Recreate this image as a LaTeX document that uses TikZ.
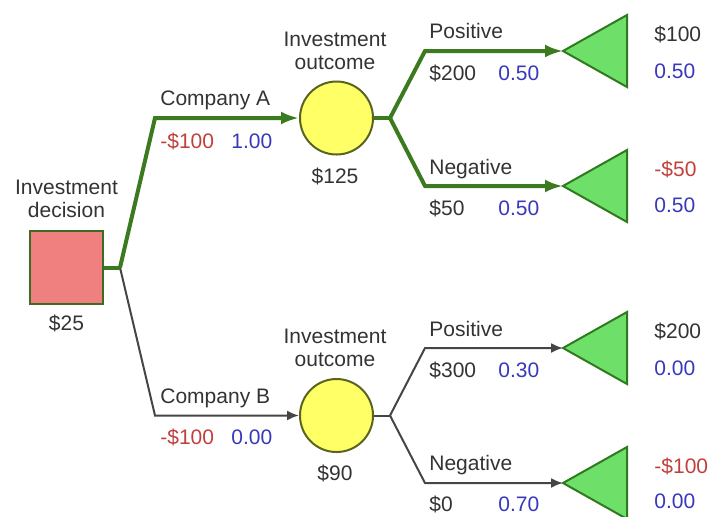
\documentclass[tikz,border=0pt]{standalone}
\usepackage{fontspec}
\setmainfont{Liberation Sans}
\usetikzlibrary{arrows.meta}

\definecolor{bestgreen}{HTML}{3B7A1F}
\definecolor{othergray}{HTML}{454545}
\definecolor{decfill}{HTML}{F08080}
\definecolor{decline}{HTML}{3E6B22}
\definecolor{chancefill}{HTML}{FFFF66}
\definecolor{chanceline}{HTML}{5A6420}
\definecolor{endfill}{HTML}{6EE06A}
\definecolor{endline}{HTML}{2F7A1E}
\definecolor{txtgray}{HTML}{333333}
\definecolor{payred}{HTML}{C0403C}
\definecolor{probblue}{HTML}{3838BB}

\begin{document}
\begin{tikzpicture}[x=0.5pt, y=-0.5pt,
	font=\fontsize{10.5}{11.5}\selectfont, text=txtgray,
	decision/.style={draw=decline, line width=1pt, fill=decfill, rectangle, minimum size=36.5pt, inner sep=0pt},
	chance/.style={draw=chanceline, line width=1pt, fill=chancefill, circle, minimum size=36.5pt, inner sep=0pt},
	endnode/.style={draw=endline, line width=1pt, fill=endfill, line join=miter},
	bestline/.style={draw=bestgreen, line width=2pt},
	otherline/.style={draw=othergray, line width=1pt},
	bestarrow/.style={bestline, -{Latex[length=9pt,width=6.5pt]}},
	otherarrow/.style={otherline, -{Latex[length=6pt,width=5pt]}},
	]
	\useasboundingbox (0,0) rectangle (710,516);

	%% The decision node
	\node[decision] (dec) at (66.5,267.5) {};
	\coordinate (j0) at (120,267.5);

	%% The chance nodes
	\node[chance] (chA) at (336.5,118) {};
	\node[chance] (chB) at (336.5,415.5) {};

	%% Corners and junctions
	\coordinate (cA) at (155,118);
	\coordinate (cB) at (155,415.5);
	\coordinate (jA) at (390,118);
	\coordinate (jB) at (390,415.5);
	\coordinate (cA1) at (425,51);
	\coordinate (cA2) at (425,186);
	\coordinate (cB1) at (425,348);
	\coordinate (cB2) at (425,483);

	%% The end nodes (tips)
	\coordinate (tA1) at (563,51);
	\coordinate (tA2) at (563,186);
	\coordinate (tB1) at (563,348);
	\coordinate (tB2) at (563,483);

	%% The branches
	\draw[otherarrow] (j0) -- (cB) -- (chB);
	\draw[bestline] (dec) -- (j0);
	\draw[bestarrow] (j0) -- (cA) -- (chA);
	\draw[bestline] (chA) -- (jA);
	\draw[bestarrow] (jA) -- (cA1) -- (tA1);
	\draw[bestarrow] (jA) -- (cA2) -- (tA2);
	\draw[otherline] (chB) -- (jB);
	\draw[otherarrow] (jB) -- (cB1) -- (tB1);
	\draw[otherarrow] (jB) -- (cB2) -- (tB2);

	\foreach \t in {tA1,tA2,tB1,tB2}
		\draw[endnode] (\t) -- ++(64,-36) -- ++(0,72) -- cycle;

	%% Node titles and values
	\begin{scope}[every node/.style={inner sep=0pt, align=center}]
		\node[anchor=south] (decT) at (66.5,218) {Investment\\decision};
		\node[anchor=base] (decV) at (66.5,330) {\$25};
		\node[anchor=south] (chAT) at (335,70) {Investment\\outcome};
		\node[anchor=base] (chAV) at (335,183) {\$125};
		\node[anchor=south] (chBT) at (335,367) {Investment\\outcome};
		\node[anchor=base] (chBV) at (335,480) {\$90};
	\end{scope}

	%% Branch names and values
	\begin{scope}[every node/.style={inner sep=0pt, anchor=base west}]
		\node (bA) at (160,105) {Company A};
		\node (bB) at (160,403) {Company B};
		\node (bA1) at (429,38) {Positive};
		\node (bA2) at (429,174) {Negative};
		\node (bB1) at (429,336) {Positive};
		\node (bB2) at (429,470) {Negative};
		\node (vA1) at (429,80) {\$200};
		\node (vA2) at (429,215) {\$50};
		\node (vB1) at (429,377) {\$300};
		\node (vB2) at (429,511) {\$0};
		\node (pA1) at (654,41) {\$100};
		\node (pB1) at (654,338) {\$200};
	\end{scope}

	%% Negative values
	\begin{scope}[every node/.style={inner sep=0pt, anchor=base west, text=payred}]
		\node (vA) at (160,148) {-\$100};
		\node (vB) at (160,444) {-\$100};
		\node (pA2) at (654,176) {-\$50};
		\node (pB2) at (654,473) {-\$100};
	\end{scope}

	%% Probabilities
	\begin{scope}[every node/.style={inner sep=0pt, anchor=base west, text=probblue}]
		\node (rA) at (231,148) {1.00};
		\node (rB) at (231,444) {0.00};
		\node (rA1) at (498,80) {0.50};
		\node (rA2) at (498,215) {0.50};
		\node (rB1) at (498,377) {0.30};
		\node (rB2) at (498,511) {0.70};
		\node (qA1) at (654,78) {0.50};
		\node (qA2) at (654,212) {0.50};
		\node (qB1) at (654,375) {0.00};
		\node (qB2) at (654,508) {0.00};
	\end{scope}

\end{tikzpicture}
\end{document}
